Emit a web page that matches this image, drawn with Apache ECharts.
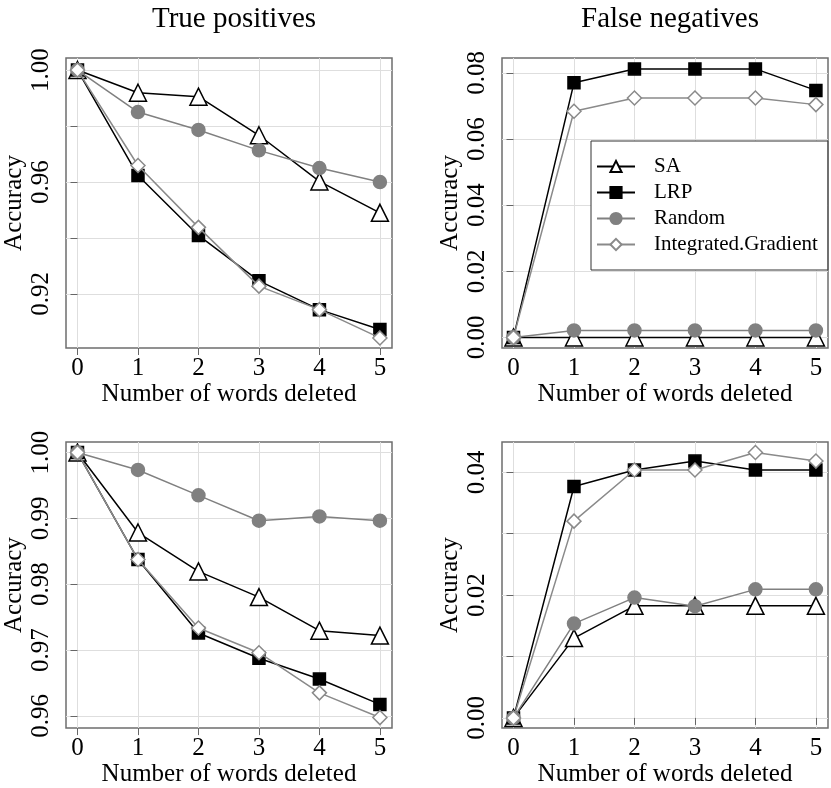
<!DOCTYPE html>
<html>
<head>
<meta charset="utf-8">
<script src="https://cdn.jsdelivr.net/npm/echarts@6/dist/echarts.min.js"></script>
<style>
  html, body { margin: 0; padding: 0; background: #fff; }
  #chart { width: 831px; height: 788px; }
</style>
</head>
<body>
<div id="chart"></div>
<script>
const steps = [0, 1, 2, 3, 4, 5];
const methods = ['SA', 'LRP', 'Random', 'Integrated.Gradient'];

// True positives, top row
const tpTopSA = [1.000, 0.9919, 0.9905, 0.9767, 0.9602, 0.9490];
const tpTopLRP = [1.000, 0.9623, 0.9409, 0.9247, 0.9144, 0.9073];
const tpTopRandom = [1.000, 0.9850, 0.9786, 0.9713, 0.9650, 0.9600];
const tpTopIG = [1.000, 0.9659, 0.9438, 0.9228, 0.9144, 0.9043];

// False negatives, top row
const fnTopSA = [0, 0, 0, 0, 0, 0];
const fnTopLRP = [0, 0.0770, 0.0812, 0.0812, 0.0812, 0.0747];
const fnTopRandom = [0, 0.0021, 0.0021, 0.0021, 0.0021, 0.0021];
const fnTopIG = [0, 0.0684, 0.0724, 0.0724, 0.0724, 0.0704];

// True positives, bottom row
const tpBotSA = [1.000, 0.98785, 0.98195, 0.97805, 0.97295, 0.9722];
const tpBotLRP = [1.000, 0.98375, 0.9726, 0.96875, 0.9656, 0.96175];
const tpBotRandom = [1.000, 0.99735, 0.9935, 0.98965, 0.9903, 0.98965];
const tpBotIG = [1.000, 0.98375, 0.97335, 0.9696, 0.9635, 0.95975];

// False negatives, bottom row
const fnBotSA = [0, 0.0130, 0.01826, 0.01826, 0.01826, 0.01826];
const fnBotLRP = [0, 0.03769, 0.04038, 0.04183, 0.04038, 0.04038];
const fnBotRandom = [0, 0.01536, 0.0196, 0.0182, 0.02094, 0.02094];
const fnBotIG = [0, 0.03205, 0.04038, 0.04038, 0.04322, 0.04183];

// tick positions and labels
const xTicks = [0, 1, 2, 3, 4, 5];
const tpTopTicks = [0.92, 0.94, 0.96, 0.98, 1.00];
const tpTopLabels = [0.92, 0.96, 1.00];
const fnTopTicks = [0, 0.02, 0.04, 0.06, 0.08];
const fnTopLabels = [0, 0.02, 0.04, 0.06, 0.08];
const tpBotTicks = [0.96, 0.97, 0.98, 0.99, 1.00];
const tpBotLabels = [0.96, 0.97, 0.98, 0.99, 1.00];
const fnBotTicks = [0, 0.01, 0.02, 0.03, 0.04];
const fnBotLabels = [0, 0.02, 0.04];

const titles = ['True positives', 'False negatives'];

const FONT = "'Liberation Serif', 'Times New Roman', serif";

const panels = [
  { left: 66, top: 58, height: 290, ymin: 0.9007, ymax: 1.0043, ticks: tpTopTicks, labels: tpTopLabels,
    data: [tpTopSA, tpTopLRP, tpTopRandom, tpTopIG] },
  { left: 502, top: 58, height: 290, ymin: -0.0032, ymax: 0.0845, ticks: fnTopTicks, labels: fnTopLabels,
    data: [fnTopSA, fnTopLRP, fnTopRandom, fnTopIG] },
  { left: 66, top: 442, height: 289, ymin: 0.95815, ymax: 1.0016, ticks: tpBotTicks, labels: tpBotLabels,
    data: [tpBotSA, tpBotLRP, tpBotRandom, tpBotIG] },
  { left: 502, top: 442, height: 289, ymin: -0.00166, ymax: 0.04494, ticks: fnBotTicks, labels: fnBotLabels,
    data: [fnBotSA, fnBotLRP, fnBotRandom, fnBotIG] }
];

const styles = [
  { symbol: 'triangle', size: 17, line: '#000', fill: '#fff', border: '#000' },
  { symbol: 'rect', size: 12, line: '#000', fill: '#000', border: '#000' },
  { symbol: 'circle', size: 13, line: '#808080', fill: '#808080', border: '#808080' },
  { symbol: 'diamond', size: 14, line: '#8a8a8a', fill: '#fff', border: '#8a8a8a' }
];

const grid = [], xAxis = [], yAxis = [], series = [];

panels.forEach((p, i) => {
  grid.push({
    left: p.left, top: p.top, width: 326, height: p.height,
    show: true, borderColor: '#6e6e6e', borderWidth: 1.5, backgroundColor: 'transparent'
  });
  xAxis.push({
    type: 'value', gridIndex: i, min: -0.19, max: 5.2,
    name: 'Number of words deleted', nameLocation: 'middle', nameGap: 33,
    nameTextStyle: { fontFamily: FONT, fontSize: 25, color: '#000' },
    axisLine: { show: false },
    axisTick: { show: true, length: 7, customValues: xTicks, lineStyle: { color: '#666' } },
    axisLabel: { customValues: xTicks, fontFamily: FONT, fontSize: 25, color: '#000', margin: 8 },
    splitLine: { show: true, lineStyle: { color: '#dedede', width: 1 } }
  });
  yAxis.push({
    type: 'value', gridIndex: i, min: p.ymin, max: p.ymax,
    name: 'Accuracy', nameLocation: 'middle', nameGap: 39,
    nameTextStyle: { fontFamily: FONT, fontSize: 25, color: '#000' },
    axisLine: { show: false },
    axisTick: { show: true, length: 7, customValues: p.ticks, lineStyle: { color: '#666' } },
    axisLabel: {
      customValues: p.labels, rotate: 90, margin: 12,
      fontFamily: FONT, fontSize: 25, color: '#000',
      formatter: v => v.toFixed(2)
    },
    splitLine: { show: true, lineStyle: { color: '#dedede', width: 1 } }
  });
  p.data.forEach((vals, k) => {
    const s = styles[k];
    series.push({
      name: methods[k], type: 'line',
      xAxisIndex: i, yAxisIndex: i,
      data: steps.map((x, j) => [x, vals[j]]),
      symbol: s.symbol, symbolSize: s.size, showAllSymbol: true,
      lineStyle: { color: s.line, width: 1.5 },
      itemStyle: { color: s.fill, borderColor: s.border, borderWidth: 1.5 },
      z: 2 + k
    });
  });
});

const chart = echarts.init(document.getElementById('chart'), null, { renderer: 'canvas' });
chart.setOption({
  animation: false,
  backgroundColor: '#fff',
  title: [
    { text: titles[0], left: 229, top: 0, textAlign: 'center',
      textStyle: { fontFamily: FONT, fontSize: 29, fontWeight: 'normal', color: '#000' } },
    { text: titles[1], left: 665, top: 0, textAlign: 'center',
      textStyle: { fontFamily: FONT, fontSize: 29, fontWeight: 'normal', color: '#000' } }
  ],
  legend: {
    data: methods,
    orient: 'vertical',
    left: 591, top: 141,
    padding: [15, 10, 15, 5],
    itemWidth: 38, itemHeight: 14, itemGap: 5,
    backgroundColor: '#fff',
    borderColor: '#333', borderWidth: 1,
    selectedMode: false,
    textStyle: { fontFamily: FONT, fontSize: 21, color: '#000', lineHeight: 20, padding: [0, 0, 0, 14] }
  },
  grid: grid,
  xAxis: xAxis,
  yAxis: yAxis,
  series: series
});
</script>
</body>
</html>
